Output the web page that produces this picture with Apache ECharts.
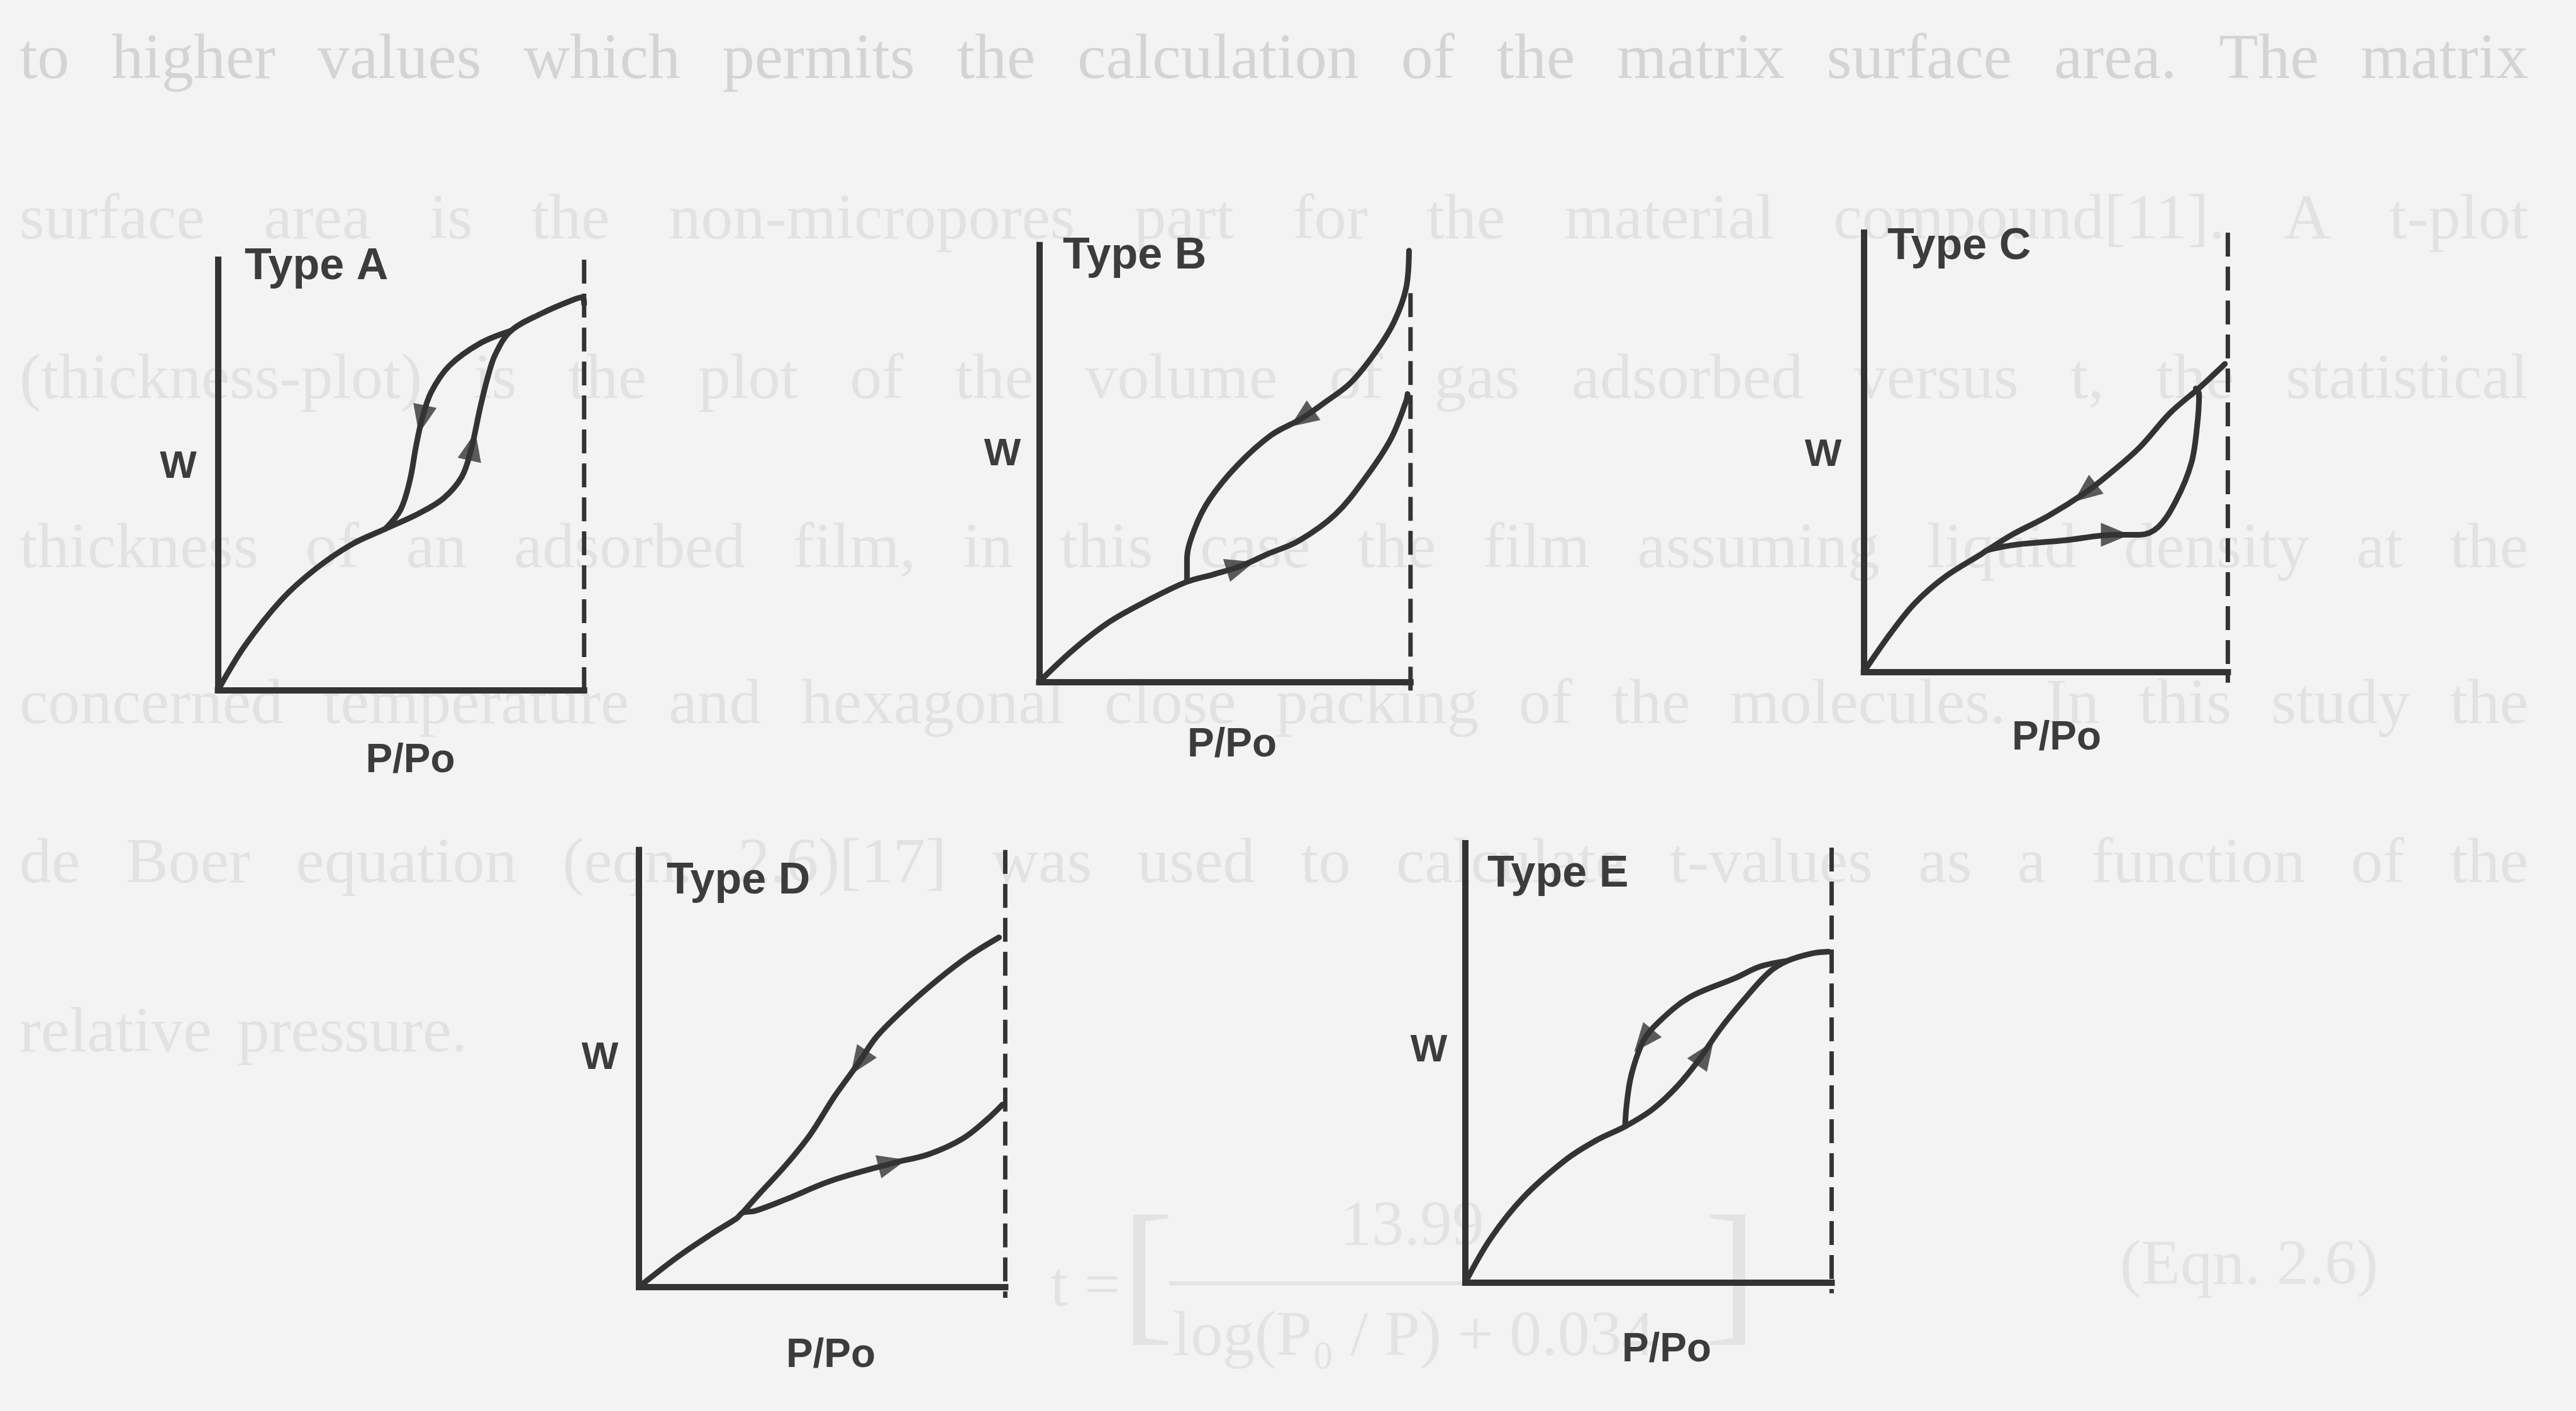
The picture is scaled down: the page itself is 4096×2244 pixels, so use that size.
<!DOCTYPE html>
<html>
<head>
<meta charset="utf-8">
<script src="https://cdn.jsdelivr.net/npm/echarts@6/dist/echarts.min.js"></script>
<style>
html,body{margin:0;padding:0;background:#f3f3f3;}
#chart{width:4096px;height:2244px;}
</style>
</head>
<body>
<div id="chart"></div>
<script>
// ---------- labels ----------
const typeNames = ['Type A', 'Type B', 'Type C', 'Type D', 'Type E'];
const xName = 'P/Po';
const yName = 'W';

// ---------- data (normalised P/Po, W) ----------
const typeA_ads = [[0,0],[0.073,0.103],[0.173,0.210],[0.265,0.281],[0.365,0.339],[0.457,0.375],[0.549,0.411],[0.616,0.446],[0.666,0.496],[0.691,0.558],[0.716,0.656],[0.737,0.728],[0.758,0.781],[0.800,0.835],[0.883,0.875],[0.967,0.906],[0.996,0.913],[1.0,0.897]];
const typeA_des = [[0.800,0.835],[0.716,0.806],[0.632,0.754],[0.582,0.692],[0.557,0.629],[0.541,0.567],[0.524,0.487],[0.499,0.420],[0.457,0.375]];
const typeA_adsArrow = [0.695,0.567];
const typeA_desArrow = [0.557,0.629];

const typeB_ads = [[0,0],[0.091,0.073],[0.190,0.138],[0.289,0.185],[0.394,0.228],[0.469,0.246],[0.542,0.265],[0.616,0.293],[0.699,0.323],[0.798,0.384],[0.881,0.470],[0.947,0.556],[0.988,0.642],[0.992,0.659]];
const typeB_des = [[0.996,0.987],[0.988,0.901],[0.955,0.823],[0.905,0.754],[0.839,0.685],[0.773,0.642],[0.707,0.603],[0.625,0.565],[0.534,0.496],[0.459,0.418],[0.418,0.349],[0.398,0.280],[0.398,0.233]];
const typeB_adsArrow = [0.542,0.265];
const typeB_desArrow = [0.707,0.603];

const typeC_ads = [[0,0],[0.073,0.087],[0.140,0.156],[0.223,0.216],[0.323,0.268],[0.340,0.277],[0.424,0.290],[0.549,0.299],[0.691,0.312],[0.758,0.312],[0.808,0.329],[0.858,0.390],[0.900,0.476],[0.916,0.563],[0.921,0.632],[0.912,0.645]];
const typeC_des = [[0.992,0.701],[0.925,0.649],[0.841,0.589],[0.758,0.511],[0.674,0.450],[0.607,0.407],[0.507,0.355],[0.407,0.312],[0.340,0.277]];
const typeC_adsArrow = [0.691,0.312];
const typeC_desArrow = [0.607,0.407];

const typeD_ads = [[0,0],[0.108,0.070],[0.200,0.122],[0.267,0.157],[0.283,0.170],[0.317,0.174],[0.400,0.200],[0.525,0.243],[0.692,0.283],[0.792,0.304],[0.883,0.339],[0.950,0.383],[0.992,0.417]];
const typeD_des = [[0.983,0.800],[0.900,0.757],[0.817,0.704],[0.733,0.643],[0.650,0.574],[0.600,0.513],[0.533,0.435],[0.467,0.348],[0.400,0.278],[0.333,0.217],[0.283,0.170]];
const typeD_adsArrow = [0.692,0.283];
const typeD_desArrow = [0.600,0.513];

const typeE_ads = [[0,0],[0.069,0.100],[0.160,0.195],[0.277,0.281],[0.361,0.325],[0.436,0.355],[0.511,0.394],[0.578,0.446],[0.637,0.506],[0.695,0.576],[0.762,0.645],[0.829,0.706],[0.879,0.732],[0.946,0.749],[0.992,0.753]];
const typeE_des = [[0.879,0.732],[0.804,0.719],[0.737,0.693],[0.612,0.649],[0.528,0.593],[0.486,0.550],[0.453,0.472],[0.440,0.403],[0.436,0.355]];
const typeE_adsArrow = [0.655,0.522];
const typeE_desArrow = [0.486,0.550];

// saturation pressure marker (P/Po = 1) upper extent
const dashTop = [1.0, 0.89, 1.0, 1.0, 0.99];

// ---------- faint show-through text of the page ----------
const bgLines = [
  'to higher values which permits the calculation of the matrix surface area. The matrix',
  'surface area is the non-micropores part for the material compound[11]. A t-plot',
  '(thickness-plot) is the plot of the volume of gas adsorbed versus t, the statistical',
  'thickness of an adsorbed film, in this case the film assuming liquid density at the',
  'concerned temperature and hexagonal close packing of the molecules. In this study the',
  'de Boer equation (eqn. 2.6)[17] was used to calculate t-values as a function of the',
  'relative pressure.'
];
const eqnTexts = ['t =', '13.99', 'log(P\u2080 / P) + 0.034', '(Eqn. 2.6)'];

// ---------- layout (pixels) ----------
const layout = [
  {grid:[346.5,413.1,582.3,684.9], title:[389,425],  w:[283.5,742.5], p:[652.5,1210]},
  {grid:[1652.4,389.7,590.4,694.8], title:[1690,408], w:[1594,723],   p:[1959,1185]},
  {grid:[2963.7,369.9,578.7,698.4], title:[3001,393], w:[2899,724],   p:[3270,1174]},
  {grid:[1016.1,1351.8,582.3,694.8], title:[1060,1402], w:[954,1683], p:[1321,2156]},
  {grid:[2330.1,1341,582.3,698.4], title:[2365,1391], w:[2272,1671],  p:[2650,2147]}
];
const bgLineY = [97, 352, 606, 875, 1123, 1376, 1645];

const sets = [
  [typeA_ads, typeA_des, typeA_adsArrow, typeA_desArrow],
  [typeB_ads, typeB_des, typeB_adsArrow, typeB_desArrow],
  [typeC_ads, typeC_des, typeC_adsArrow, typeC_desArrow],
  [typeD_ads, typeD_des, typeD_adsArrow, typeD_desArrow],
  [typeE_ads, typeE_des, typeE_adsArrow, typeE_desArrow]
];

const INK = '#333333';
const LABEL_FONT = '"Liberation Sans", Arial, sans-serif';

// direction of travel along a branch at a point, in screen degrees, for arrowheads
function arrowRotation(branch, pt, w, h) {
  let best = 0, bd = Infinity;
  for (let i = 0; i < branch.length - 1; i++) {
    const mx = (branch[i][0] + branch[i+1][0]) / 2, my = (branch[i][1] + branch[i+1][1]) / 2;
    const d = (mx - pt[0]) ** 2 + (my - pt[1]) ** 2;
    if (d < bd) { bd = d; best = i; }
  }
  const a = branch[best], b = branch[Math.min(branch.length - 1, best + 1)];
  const dx = (b[0] - a[0]) * w, dy = (b[1] - a[1]) * h;
  return Math.atan2(dy, dx) * 180 / Math.PI - 90;
}

const grids = [], xAxes = [], yAxes = [], series = [], graphics = [];
layout.forEach((L, i) => {
  const [left, top, width, height] = L.grid;
  grids.push({left, top, width, height, containLabel: false});
  const axisLine = {show: true, onZero: false, lineStyle: {color: INK, width: 10, cap: 'square'}};
  xAxes.push({type: 'value', gridIndex: i, min: 0, max: 1, axisLine,
    axisTick: {show: false}, axisLabel: {show: false}, splitLine: {show: false}});
  yAxes.push({type: 'value', gridIndex: i, min: 0, max: 1, axisLine,
    axisTick: {show: false}, axisLabel: {show: false}, splitLine: {show: false}});

  const [ads, des, adsArrow, desArrow] = sets[i];
  const lineBase = {type: 'line', xAxisIndex: i, yAxisIndex: i, symbol: 'none', smooth: 0.35,
    clip: false, silent: true, z: 3,
    lineStyle: {color: INK, width: 9, cap: 'round', join: 'round'}};
  series.push(Object.assign({}, lineBase, {name: typeNames[i] + ' adsorption', data: ads}));
  series.push(Object.assign({}, lineBase, {name: typeNames[i] + ' desorption', data: des}));
  series.push({type: 'line', xAxisIndex: i, yAxisIndex: i, symbol: 'none', clip: false, silent: true,
    name: typeNames[i] + ' P/Po = 1', z: 2,
    data: [[1, dashTop[i]], [1, -0.025]],
    lineStyle: {color: INK, width: 7, type: [38, 16]}});
  series.push({type: 'scatter', xAxisIndex: i, yAxisIndex: i, symbol: 'triangle', symbolSize: [38, 46],
    name: typeNames[i] + ' arrows', clip: false, silent: true, z: 4,
    itemStyle: {color: INK},
    data: [
      {value: adsArrow, symbolRotate: arrowRotation(ads, adsArrow, width, height)},
      {value: desArrow, symbolRotate: arrowRotation(des, desArrow, width, height)}
    ]});

  graphics.push({type: 'text', x: L.title[0], y: L.title[1], z: 10,
    style: {text: typeNames[i], font: 'bold 70px ' + LABEL_FONT, fill: '#3c3c3c', align: 'left', verticalAlign: 'middle'}});
  graphics.push({type: 'text', x: L.w[0], y: L.w[1], z: 10,
    style: {text: yName, font: 'bold 62px ' + LABEL_FONT, fill: '#3c3c3c', align: 'center', verticalAlign: 'middle'}});
  graphics.push({type: 'text', x: L.p[0], y: L.p[1], z: 10,
    style: {text: xName, font: 'bold 64px ' + LABEL_FONT, fill: '#3c3c3c', align: 'center', verticalAlign: 'middle'}});
});

// faint justified page text behind the figure
const BG_FONT_SIZE = 102;
const BG_FONT = BG_FONT_SIZE + 'px "Liberation Serif", "Times New Roman", serif';
const ctx = document.createElement('canvas').getContext('2d');
ctx.font = BG_FONT;
const X0 = 31, X1 = 4020;
bgLines.forEach((line, i) => {
  const words = line.split(' ');
  const ws = words.map(w => ctx.measureText(w).width);
  const total = ws.reduce((a, b) => a + b, 0);
  const last = i === bgLines.length - 1;
  const gap = last ? ctx.measureText(' ').width * 1.6 : (X1 - X0 - total) / (words.length - 1);
  let x = X0;
  words.forEach((w, j) => {
    graphics.push({type: 'text', x: x, y: bgLineY[i], z: -5, silent: true,
      style: {text: w, font: BG_FONT, fill: i === 0 ? '#d4d4d4' : '#e2e2e2', align: 'left', verticalAlign: 'middle'}});
    x += ws[j] + gap;
  });
});
// faint equation
const EQ_FILL = '#e3e3e3';
graphics.push({type: 'text', x: 1670, y: 2049, z: -5, silent: true,
  style: {text: eqnTexts[0], font: BG_FONT, fill: EQ_FILL, align: 'left', verticalAlign: 'middle'}});
graphics.push({type: 'text', x: 1825, y: 2040, z: -5, silent: true,
  style: {text: '[', font: '250px "Liberation Serif", serif', fill: EQ_FILL, align: 'center', verticalAlign: 'middle'}});
graphics.push({type: 'text', x: 2245, y: 1953, z: -5, silent: true,
  style: {text: eqnTexts[1], font: BG_FONT, fill: EQ_FILL, align: 'center', verticalAlign: 'middle'}});
graphics.push({type: 'line', z: -5, silent: true, shape: {x1: 1859, y1: 2041, x2: 2715, y2: 2041},
  style: {stroke: EQ_FILL, lineWidth: 6}});
graphics.push({type: 'text', x: 1865, y: 2128, z: -5, silent: true,
  style: {text: eqnTexts[2], font: BG_FONT, fill: EQ_FILL, align: 'left', verticalAlign: 'middle'}});
graphics.push({type: 'text', x: 2752, y: 2040, z: -5, silent: true,
  style: {text: ']', font: '250px "Liberation Serif", serif', fill: EQ_FILL, align: 'center', verticalAlign: 'middle'}});
graphics.push({type: 'text', x: 3576, y: 2015, z: -5, silent: true,
  style: {text: eqnTexts[3], font: BG_FONT, fill: EQ_FILL, align: 'center', verticalAlign: 'middle'}});

const chart = echarts.init(document.getElementById('chart'), null, {renderer: 'canvas'});
chart.setOption({
  animation: false,
  backgroundColor: '#f3f3f3',
  grid: grids,
  xAxis: xAxes,
  yAxis: yAxes,
  series: series,
  graphic: graphics
});
</script>
</body>
</html>
